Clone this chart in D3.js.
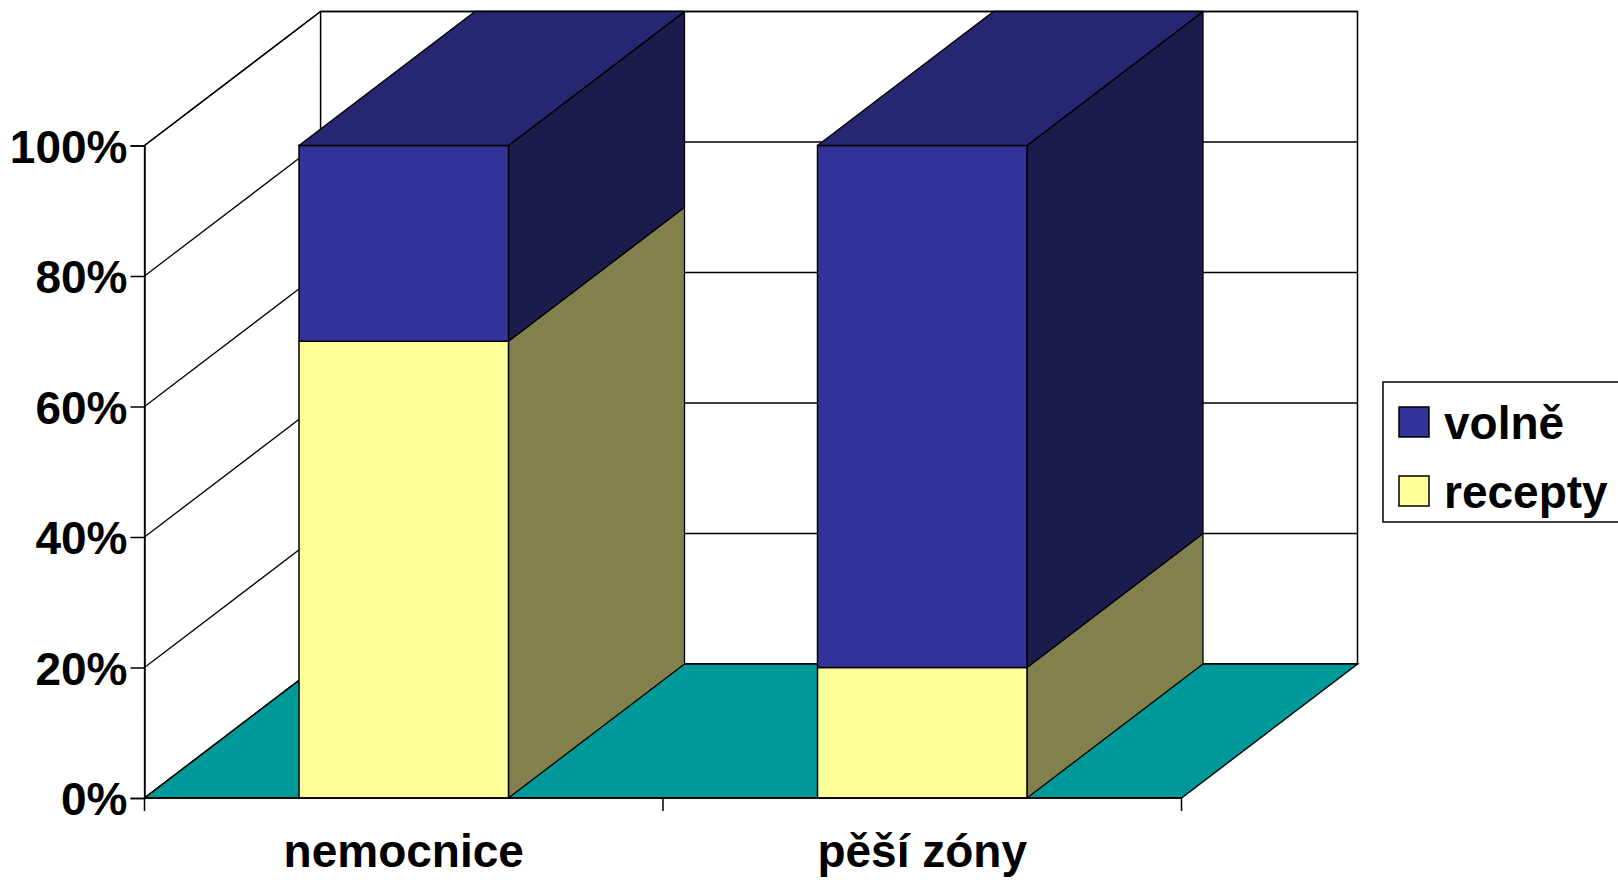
<!DOCTYPE html>
<html>
<head>
<meta charset="utf-8">
<script src="https://cdn.jsdelivr.net/npm/d3@7/dist/d3.min.js"></script>
<style>
  html, body { margin: 0; padding: 0; background: #fff; }
  svg { display: block; font-family: "Liberation Sans", Arial, sans-serif; }
</style>
</head>
<body>
<svg id="chart" width="1618" height="880"></svg>
<script>
// Stacked 100% 3D column chart: prescriptions vs. over-the-counter sales
const categories = ["nemocnice", "pěší zóny"];
const seriesNames = ["recepty", "volně"];
const receptyValues = [70, 20];
const volneValues = [30, 80];
const yTicks = [0, 20, 40, 60, 80, 100];

const colors = {
  recepty: { front: "#FFFF99", side: "#82804C", top: "#BFBF73" },
  "volně": { front: "#333399", side: "#1C1C4C", top: "#272672" }
};
const floorColor = "#009999";

const svg = d3.select("#chart");
const fontSize = 46;

// Plot geometry: front plane plus a receding depth offset
const x = d3.scaleBand().domain(categories).range([144.5, 1181.5]);
const y = d3.scaleLinear().domain([0, 100]).range([798, 145.5]);
const dx = 176, dy = -134;
const barRatio = 0.404;

const x0 = x.range()[0], x1 = x.range()[1];
const yTop = y(100), yBot = y(0);
const poly = pts => pts.map(p => p.join(",")).join(" ");

// Back wall
svg.append("polygon")
  .attr("points", poly([[x0 + dx, yTop + dy], [x1 + dx, yTop + dy], [x1 + dx, yBot + dy], [x0 + dx, yBot + dy]]))
  .attr("fill", "#fff").attr("stroke", "#000").attr("stroke-width", 1.5);
svg.append("g").selectAll("line").data(yTicks).join("line")
  .attr("x1", x0 + dx).attr("x2", x1 + dx)
  .attr("y1", d => y(d) + dy).attr("y2", d => y(d) + dy)
  .attr("stroke", "#000").attr("stroke-width", 1.3);

// Left side wall
svg.append("polygon")
  .attr("points", poly([[x0, yTop], [x0 + dx, yTop + dy], [x0 + dx, yBot + dy], [x0, yBot]]))
  .attr("fill", "#fff").attr("stroke", "#000").attr("stroke-width", 1.3);
svg.append("g").selectAll("line").data(yTicks).join("line")
  .attr("x1", x0).attr("x2", x0 + dx)
  .attr("y1", d => y(d)).attr("y2", d => y(d) + dy)
  .attr("stroke", "#000").attr("stroke-width", 1.3);

// Floor
svg.append("polygon")
  .attr("points", poly([[x0, yBot], [x1, yBot], [x1 + dx, yBot + dy], [x0 + dx, yBot + dy]]))
  .attr("fill", floorColor).attr("stroke", "#000").attr("stroke-width", 1.5);

// Stacked data
const stackData = categories.map((c, i) => ({ cat: c, recepty: receptyValues[i], "volně": volneValues[i] }));
const stacked = d3.stack().keys(seriesNames)(stackData);

const bars = svg.append("g");
categories.forEach((cat, i) => {
  const bw = x.bandwidth() * barRatio;
  const bx0 = x(cat) + (x.bandwidth() - bw) / 2;
  const bx1 = bx0 + bw;
  stacked.forEach((layer, li) => {
    const [v0, v1] = layer[i];
    const c = colors[layer.key];
    const ya = y(v1), yb = y(v0);
    const g = bars.append("g");
    // right side face
    g.append("polygon")
      .attr("points", poly([[bx1, ya], [bx1 + dx, ya + dy], [bx1 + dx, yb + dy], [bx1, yb]]))
      .attr("fill", c.side).attr("stroke", "#000").attr("stroke-width", 1.3).attr("stroke-linejoin", "round");
    // front face
    g.append("rect")
      .attr("x", bx0).attr("y", ya).attr("width", bw).attr("height", yb - ya)
      .attr("fill", c.front).attr("stroke", "#000").attr("stroke-width", 1.5);
    // top face (only the uppermost segment shows it)
    if (li === stacked.length - 1) {
      g.append("polygon")
        .attr("points", poly([[bx0, ya], [bx1, ya], [bx1 + dx, ya + dy], [bx0 + dx, ya + dy]]))
        .attr("fill", c.top).attr("stroke", "#000").attr("stroke-width", 1.5).attr("stroke-linejoin", "round");
    }
  });
});

// Y axis
const yAxis = d3.axisLeft(y).tickValues(yTicks).tickSize(14).tickPadding(3).tickFormat(d => d + "%");
const yg = svg.append("g").attr("transform", `translate(${x0},0)`).call(yAxis);
yg.select(".domain").attr("stroke", "#000").attr("stroke-width", 1.5);
yg.selectAll(".tick line").attr("stroke", "#000").attr("stroke-width", 1.5);
yg.selectAll(".tick text")
  .attr("font-family", "'Liberation Sans', Arial, sans-serif")
  .attr("font-size", fontSize).attr("font-weight", "bold").attr("fill", "#000")
  .attr("dy", "0.36em");

// X axis: baseline, boundary ticks and centred category labels
const xg = svg.append("g");
xg.append("line").attr("x1", x0).attr("x2", x1).attr("y1", yBot).attr("y2", yBot)
  .attr("stroke", "#000").attr("stroke-width", 1.5);
const bounds = categories.map(c => x(c)).concat([x1]);
xg.selectAll("line.tick").data(bounds).join("line").attr("class", "tick")
  .attr("x1", d => d).attr("x2", d => d).attr("y1", yBot).attr("y2", yBot + 13)
  .attr("stroke", "#000").attr("stroke-width", 1.5);
xg.selectAll("text").data(categories).join("text")
  .attr("x", d => x(d) + x.bandwidth() / 2).attr("y", 867)
  .attr("text-anchor", "middle")
  .attr("font-size", fontSize).attr("font-weight", "bold").attr("fill", "#000")
  .text(d => d);

// Legend
const legend = svg.append("g");
legend.append("rect").attr("x", 1383).attr("y", 382).attr("width", 250).attr("height", 140)
  .attr("fill", "#fff").attr("stroke", "#000").attr("stroke-width", 1.5);
const legendItems = ["volně", "recepty"];
legendItems.forEach((name, i) => {
  const top = 407 + i * 69;
  legend.append("rect").attr("x", 1399).attr("y", top).attr("width", 30).attr("height", 30)
    .attr("fill", colors[name].front).attr("stroke", "#000").attr("stroke-width", 1.5);
  legend.append("text").attr("x", 1444).attr("y", top + 32)
    .attr("font-size", fontSize).attr("font-weight", "bold").attr("fill", "#000")
    .text(name);
});
</script>
</body>
</html>
